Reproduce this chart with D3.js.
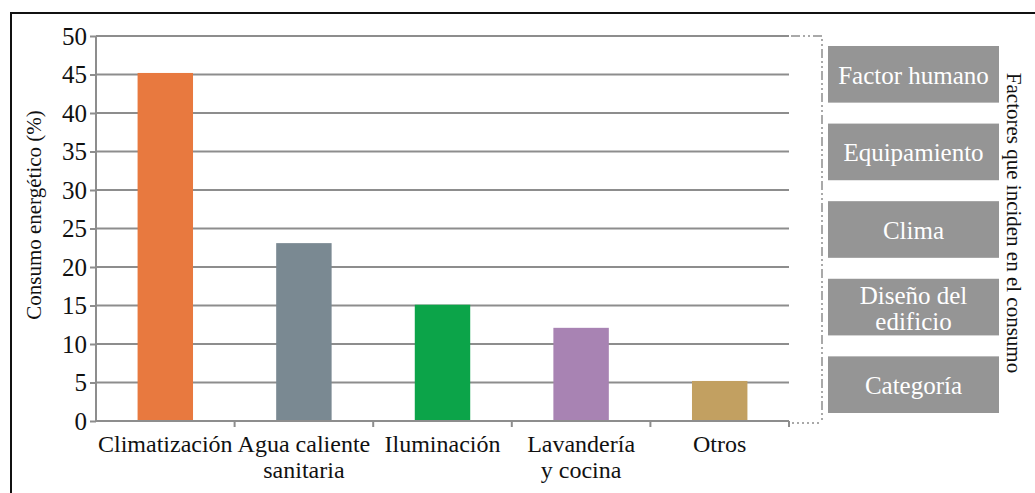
<!DOCTYPE html>
<html><head><meta charset="utf-8">
<script src="https://cdn.jsdelivr.net/npm/d3@7"></script>
<style>body{margin:0;background:#fff}svg{display:block}text{font-family:"Liberation Serif","Times New Roman",serif}</style>
</head><body>
<svg id="c" width="1035" height="493"></svg>
<script>
const categories = ["Climatización", "Agua caliente\nsanitaria", "Iluminación", "Lavandería\ny cocina", "Otros"];
const values = [45.2, 23.1, 15.1, 12.1, 5.2];
const colors = ["#E8793F", "#7A8992", "#0CA449", "#A883B3", "#C2A061"];
const yTicks = [0, 5, 10, 15, 20, 25, 30, 35, 40, 45, 50];
const factors = [["Factor humano"], ["Equipamiento"], ["Clima"], ["Diseño del", "edificio"], ["Categoría"]];
const yTitle = "Consumo energético (%)";
const rightTitle = "Factores que inciden en el consumo";

const svg = d3.select("#c");
const grid = "#8d8d8d";
// outer frame
svg.append("rect").attr("x", 11).attr("y", 13).attr("width", 1040).attr("height", 500)
  .attr("fill", "none").attr("stroke", "#111").attr("stroke-width", 2);

const x = d3.scaleBand().domain(categories).range([96, 789]).padding(0);
const y = d3.scaleLinear().domain([0, 50]).range([421, 36]);

// gridlines
svg.append("g").selectAll("line").data(yTicks.filter(d => d > 0)).join("line")
  .attr("x1", 96).attr("x2", 789).attr("y1", d => y(d)).attr("y2", d => y(d))
  .attr("stroke", grid).attr("stroke-width", 2);

// bars
svg.append("g").selectAll("rect").data(categories).join("rect")
  .attr("x", d => x(d) + x.bandwidth() * 0.3)
  .attr("width", x.bandwidth() * 0.4)
  .attr("y", (d, i) => y(values[i]))
  .attr("height", (d, i) => y(0) - y(values[i]))
  .attr("fill", (d, i) => colors[i]);

// y axis
const ya = svg.append("g").attr("transform", "translate(96,0)")
  .call(d3.axisLeft(y).tickValues(yTicks).tickSize(6).tickPadding(3).tickFormat(d3.format("d")));
ya.attr("font-family", null);
ya.select(".domain").attr("stroke", grid).attr("stroke-width", 2).attr("d", `M0,${y(50)}V${y(0)}`);
ya.selectAll(".tick line").attr("stroke", grid).attr("stroke-width", 2);
ya.selectAll(".tick text").attr("font-size", 25).attr("fill", "#111").attr("dy", "0.33em");

// x axis
const xa = svg.append("g").attr("transform", `translate(0,${y(0)})`);
xa.append("line").attr("x1", 96).attr("x2", 789).attr("stroke", grid).attr("stroke-width", 2);
const bounds = categories.map(c => x(c)).concat([x(categories[categories.length - 1]) + x.bandwidth()]);
xa.selectAll("line.t").data(bounds.slice(1)).join("line").attr("class", "t")
  .attr("x1", d => d).attr("x2", d => d).attr("y1", 0).attr("y2", 6)
  .attr("stroke", grid).attr("stroke-width", 2);
const xl = xa.selectAll("text").data(categories).join("text")
  .attr("text-anchor", "middle").attr("font-size", 24).attr("fill", "#111")
  .attr("transform", d => `translate(${x(d) + x.bandwidth() / 2},31)`);
xl.each(function(d) {
  d.split("\n").forEach((t, i) => d3.select(this).append("tspan").attr("x", 0).attr("dy", i ? 26 : 0).text(t));
});

// y title
svg.append("text").attr("transform", `translate(41,215) rotate(-90)`)
  .attr("text-anchor", "middle").attr("font-size", 21).attr("fill", "#111").text(yTitle);

// bracket
const br = svg.append("g").attr("fill", "none").attr("stroke", grid).attr("stroke-width", 1.5);
br.append("path").attr("d", `M791,${y(50)}H822V${y(0) + 2}`).attr("stroke-dasharray", "9,3,2,3,2,3");
br.append("path").attr("d", `M792,${y(0) + 2}H822`).attr("stroke-dasharray", "2,3");

// factor boxes
const by = d3.scaleBand().domain(d3.range(factors.length)).range([46, 413]).paddingInner(0.27).paddingOuter(0);
const fb = svg.append("g").selectAll("g").data(factors).join("g")
  .attr("transform", (d, i) => `translate(828,${by(i)})`);
fb.append("rect").attr("width", 171).attr("height", by.bandwidth()).attr("fill", "#959595");
fb.append("text").attr("text-anchor", "middle").attr("fill", "#fff").attr("font-size", 25)
  .each(function(d) {
    const h = by.bandwidth();
    const start = h / 2 + 9.5 - (d.length - 1) * 13;
    d.forEach((t, i) => d3.select(this).append("tspan").attr("x", 85.5).attr("y", start + i * 26).text(t));
  });

// right title
svg.append("text").attr("transform", `translate(1007,223) rotate(90)`)
  .attr("text-anchor", "middle").attr("font-size", 21).attr("fill", "#111").text(rightTitle);
</script>
</body></html>
